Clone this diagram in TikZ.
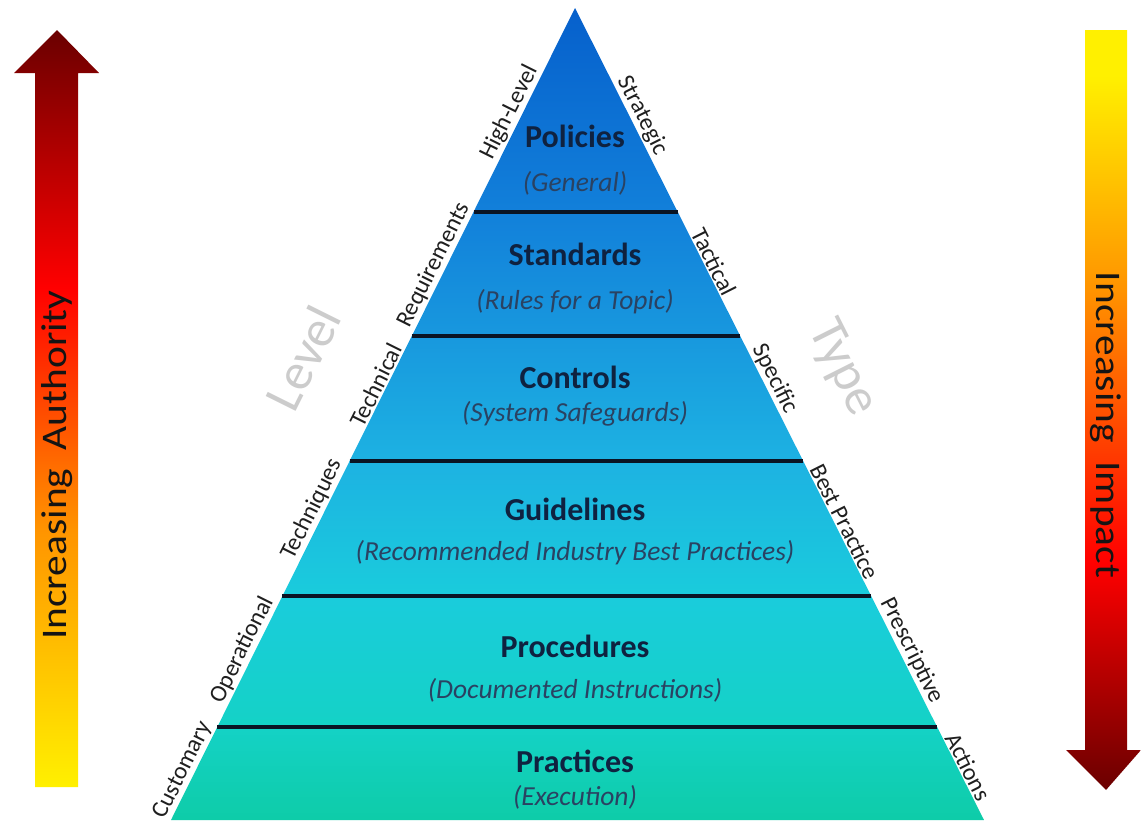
\documentclass[tikz,border=0pt]{standalone}
\usepackage{fontspec}
\setmainfont{Carlito}
\usetikzlibrary{calc}
\definecolor{c0}{HTML}{0660CC}
\definecolor{c1}{HTML}{1280DA}
\definecolor{c2}{HTML}{1898DE}
\definecolor{c3}{HTML}{1DB2E2}
\definecolor{c4}{HTML}{1ACCDC}
\definecolor{c5}{HTML}{14D2C6}
\definecolor{c6}{HTML}{0ECCA8}
\definecolor{titlecol}{HTML}{0F2240}
\definecolor{subcol}{HTML}{2A4262}
\definecolor{divcol}{HTML}{0A1424}
\definecolor{dred}{HTML}{6A0000}
\definecolor{aorange}{HTML}{FF9400}
\definecolor{ayellow}{HTML}{FFF000}
\pgfdeclareverticalshading{authority}{100bp}{color(0bp)=(ayellow); color(25bp)=(ayellow); color(42bp)=(aorange); color(58bp)=(red); color(75bp)=(dred); color(100bp)=(dred)}
\pgfdeclareverticalshading{impact}{100bp}{color(0bp)=(dred); color(25bp)=(dred); color(40bp)=(red); color(58bp)=(aorange); color(72bp)=(ayellow); color(100bp)=(ayellow)}
\tikzset{
  title/.style={font=\fontsize{32}{34}\selectfont\bfseries, text=titlecol},
  subtitle/.style={font=\fontsize{27.5}{29}\selectfont\itshape, text=subcol},
  divline/.style={draw=divcol, line width=3.5pt},
  lside/.style={font=\fontsize{24}{26}\selectfont, text=black!88, anchor=south, inner sep=1.5pt, rotate=63.55},
  rside/.style={font=\fontsize{24}{26}\selectfont, text=black!88, anchor=south, inner sep=1.5pt, rotate=-63.27},
  bigword/.style={font=\fontsize{52}{54}\selectfont, text=black!20},
  arrowtext/.style={font=\fontsize{36}{38}\selectfont, text=black!92},
}
\begin{document}
\begin{tikzpicture}[x=1pt,y=-1pt]
\useasboundingbox[fill=white] (0,0) rectangle (1141,822);
% pyramid geometry
\coordinate (A) at (575,8);
\coordinate (BL) at (171,820);
\coordinate (BR) at (984,820);
\coordinate (L1) at ($(A)!0.2512!(BL)$);
\coordinate (R1) at ($(A)!0.2512!(BR)$);
\coordinate (L2) at ($(A)!0.4039!(BL)$);
\coordinate (R2) at ($(A)!0.4039!(BR)$);
\coordinate (L3) at ($(A)!0.5579!(BL)$);
\coordinate (R3) at ($(A)!0.5579!(BR)$);
\coordinate (L4) at ($(A)!0.7241!(BL)$);
\coordinate (R4) at ($(A)!0.7241!(BR)$);
\coordinate (L5) at ($(A)!0.8855!(BL)$);
\coordinate (R5) at ($(A)!0.8855!(BR)$);
% bands
\shade[top color=c0, bottom color=c1] (A) -- (R1) -- (L1) -- cycle;
\shade[top color=c1, bottom color=c2] (L1) -- (R1) -- (R2) -- (L2) -- cycle;
\shade[top color=c2, bottom color=c3] (L2) -- (R2) -- (R3) -- (L3) -- cycle;
\shade[top color=c3, bottom color=c4] (L3) -- (R3) -- (R4) -- (L4) -- cycle;
\shade[top color=c4, bottom color=c5] (L4) -- (R4) -- (R5) -- (L5) -- cycle;
\shade[top color=c5, bottom color=c6] (L5) -- (R5) -- (BR) -- (BL) -- cycle;
% dividers
\draw[divline] (L1) -- (R1);
\draw[divline] (L2) -- (R2);
\draw[divline] (L3) -- (R3);
\draw[divline] (L4) -- (R4);
\draw[divline] (L5) -- (R5);
% titles
\node[title] (t1) at (575,136) {Policies};
\node[subtitle] (s1) at (575,183) {(General)};
\node[title] (t2) at (575,254) {Standards};
\node[subtitle] (s2) at (575,302) {(Rules for a Topic)};
\node[title] (t3) at (575,377) {Controls};
\node[subtitle] (s3) at (575,414) {(System Safeguards)};
\node[title] (t4) at (575,509) {Guidelines};
\node[subtitle] (s4) at (575,553) {(Recommended Industry Best Practices)};
\node[title] (t5) at (575,646) {Procedures};
\node[subtitle] (s5) at (575,690) {(Documented Instructions)};
\node[title] (t6) at (575,761) {Practices};
\node[subtitle] (s6) at (575,797) {(Execution)};
% left side labels
\node[lside] (l1) at ($(A)!0.135!(BL)$) {High-Level};
\node[lside] (l2) at ($(A)!0.323!(BL)$) {Requirements};
\node[lside] (l3) at ($(A)!0.470!(BL)$) {Technical};
\node[lside] (l4) at ($(A)!0.624!(BL)$) {Techniques};
\node[lside] (l5) at ($(A)!0.797!(BL)$) {Operational};
\node[lside] (l6) at ($(A)!0.945!(BL)$) {Customary};
% right side labels
\node[rside] (r1) at ($(A)!0.139!(BR)$) {Strategic};
\node[rside] (r2) at ($(A)!0.318!(BR)$) {Tactical};
\node[rside] (r3) at ($(A)!0.463!(BR)$) {Specific};
\node[rside] (r4) at ($(A)!0.638!(BR)$) {Best Practice};
\node[rside] (r5) at ($(A)!0.798!(BR)$) {Prescriptive};
\node[rside] (r6) at ($(A)!0.940!(BR)$) {Actions};
% big words
\node[bigword, rotate=63.55] (level) at (303,358) {Level};
\node[bigword, rotate=-63.27] (type) at (842,368) {Type};
% left arrow
\shade[shading=authority] (35,787) -- (35,73) -- (14,73) -- (57,30) -- (99,73) -- (78,73) -- (78,787) -- cycle;
\node[arrowtext, rotate=90] (auth) at (57,465) {\scalebox{1.15}[1]{Increasing\ \ Authority}};
% right arrow
\shade[shading=impact] (1085,30) -- (1127,30) -- (1127,750) -- (1141,750) -- (1106,790) -- (1066,750) -- (1085,750) -- cycle;
\node[arrowtext, rotate=-90] (imp) at (1106,425) {\scalebox{1.15}[1]{Increasing\ \ Impact}};
\end{tikzpicture}
\end{document}
